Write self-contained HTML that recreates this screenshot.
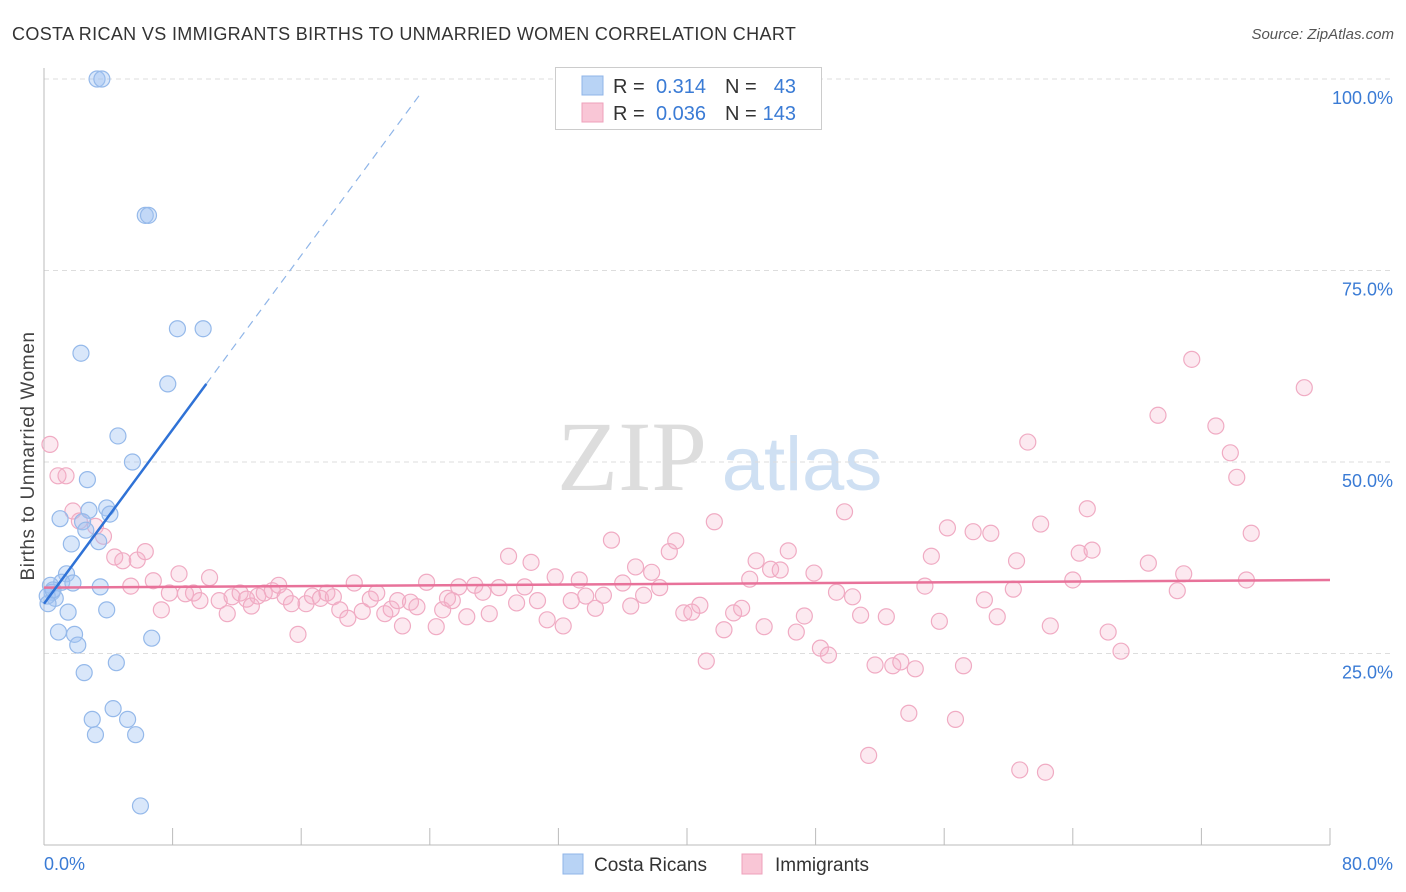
<!DOCTYPE html>
<html><head><meta charset="utf-8"><style>
body{margin:0;background:#fff;font-family:"Liberation Sans",sans-serif;}
#wrap{position:relative;width:1406px;height:892px;overflow:hidden;}
</style></head><body>
<div id="wrap">
<svg id="svg" width="1406" height="892" xmlns="http://www.w3.org/2000/svg"></svg>
</div>
<script>
const blueX=[3.3,3.6,6.3,6.5,8.3,9.9,2.3,7.7,4.6,5.5,2.7,1.0,2.8,3.9,4.1,2.4,2.6,3.4,1.7,1.4,1.1,0.4,0.5,0.7,0.2,0.25,1.8,3.5,1.5,3.9,0.9,1.9,2.1,6.7,4.5,2.5,4.3,3.0,5.2,3.2,5.7,6.0,0.56];
const blueY=[100,100,82.2,82.2,67.4,67.4,64.2,60.2,53.4,50,47.7,42.6,43.7,44,43.2,42.2,41.1,39.6,39.3,35.4,34.3,33.9,33.0,32.2,32.5,31.5,34.2,33.7,30.4,30.7,27.8,27.5,26.1,27.0,23.8,22.5,17.8,16.4,16.4,14.4,14.4,5.1,33.3];
const pinkX=[0.37,0.87,1.37,1.8,2.2,3.2,3.7,4.4,4.9,5.8,6.3,5.4,6.8,7.3,7.8,8.4,8.8,9.3,9.7,10.3,10.9,11.4,11.7,12.2,12.6,12.9,13.3,13.7,14.2,14.6,15.0,15.4,15.8,16.3,16.7,17.2,17.6,18.0,18.4,18.9,19.3,19.8,20.3,20.7,21.2,21.6,22.0,22.3,22.8,23.2,23.8,24.4,24.8,25.1,25.4,25.8,26.3,26.8,27.3,27.7,28.3,28.9,29.4,29.9,30.3,30.7,31.3,31.8,32.3,32.8,33.3,33.7,34.3,34.8,35.3,36.0,36.5,36.8,37.3,37.8,38.3,38.9,39.3,39.8,40.3,40.8,41.2,41.7,42.3,42.9,43.4,43.9,44.3,44.8,45.2,45.8,46.3,46.8,47.3,47.9,48.3,48.8,49.3,49.8,50.3,50.8,51.3,51.7,52.4,52.8,53.3,53.8,54.2,54.8,55.2,55.7,56.2,56.7,57.2,57.8,58.5,58.9,59.3,60.5,60.3,60.7,61.2,62.0,62.3,62.6,64.0,64.4,65.2,64.9,66.2,67.0,68.7,69.3,70.5,70.9,71.4,72.9,73.8,74.2,74.8,75.1,78.4];
const pinkY=[52.3,48.2,48.2,43.6,42.3,41.6,40.3,37.6,37.1,37.2,38.3,33.8,34.5,30.7,32.9,35.4,32.8,32.9,31.9,34.9,31.9,30.2,32.4,32.9,32.1,31.2,32.5,32.9,33.2,33.9,32.4,31.5,27.5,31.5,32.5,32.2,32.9,32.4,30.7,29.6,34.2,30.5,32.1,32.9,30.2,30.8,31.9,28.6,31.7,31.1,34.3,28.5,30.7,32.2,31.9,33.7,29.8,33.9,33.0,30.2,33.6,37.7,31.6,33.7,36.9,31.9,29.4,35.0,28.6,31.9,34.6,32.5,30.9,32.6,39.8,34.2,31.2,36.3,32.6,35.6,33.6,38.3,39.7,30.3,30.4,31.3,24.0,42.2,28.1,30.3,30.9,34.7,37.1,28.5,36.0,35.9,38.4,27.8,29.9,35.5,25.7,24.8,33.0,43.5,32.4,30.0,11.7,23.5,29.8,23.4,23.9,17.2,23.0,33.8,37.7,29.2,41.4,16.4,23.4,40.9,32.0,40.7,29.8,37.1,33.4,9.8,52.6,41.9,9.5,28.6,34.6,38.1,38.5,43.9,27.8,25.3,36.8,56.1,33.2,35.4,63.4,54.7,51.2,48.0,34.6,40.7,59.7];
const yTicks=[25,50,75,100];
const yTickLabels=["25.0%","50.0%","75.0%","100.0%"];
const xTicks=[0,8,16,24,32,40,48,56,64,72,80];
const blueTrend=[[0,31.5],[10.1,60.2]];
const blueDash=[[10.1,60.2],[23.5,98.3]];
const pinkTrend=[[0,33.6],[80,34.6]];

const NS="http://www.w3.org/2000/svg";
const svg=document.getElementById('svg');
const X=v=>44+v*(1286/80);
const Y=v=>845-v*7.66;
function el(t,a,p){const e=document.createElementNS(NS,t);for(const k in a)e.setAttribute(k,a[k]);(p||svg).appendChild(e);return e;}
function tx(x,y,s,a){const e=el('text',Object.assign({x:x,y:y},a));e.textContent=s;return e;}

let t=tx(12,40,"COSTA RICAN VS IMMIGRANTS BIRTHS TO UNMARRIED WOMEN CORRELATION CHART",{'font-size':18,fill:'#333','letter-spacing':'0.35'});


t=tx(1394,39,"Source: ZipAtlas.com",{'font-size':15,fill:'#555','text-anchor':'end','font-style':'italic'});



t=tx(632,490,"ZIP",{'font-size':100,fill:'#ddd','text-anchor':'middle','font-family':'Liberation Serif, serif'});


t=tx(802,490,"atlas",{'font-size':76,fill:'#cfe0f3','text-anchor':'middle'});



yTicks.forEach((v,i)=>{
  const g=el('line',{x1:44,x2:1394,y1:Y(v),y2:Y(v),stroke:'#ddd','stroke-dasharray':'5,4'});
  
  
  const l=tx(1393,Y(v)+25,yTickLabels[i],{'font-size':18,fill:'#3a7bd5','text-anchor':'end'});
  
  
});
let ax=el('line',{x1:44,x2:44,y1:68,y2:845,stroke:'#bbb'});


ax=el('line',{x1:44,x2:1330,y1:845,y2:845,stroke:'#bbb'});


xTicks.forEach(v=>{
  const k=el('line',{x1:X(v),x2:X(v),y1:828,y2:845,stroke:'#bbb'});
  
  
});
t=tx(44,870,"0.0%",{'font-size':18,fill:'#3a7bd5'});


t=tx(1393,870,"80.0%",{'font-size':18,fill:'#3a7bd5','text-anchor':'end'});


t=tx(0,0,"Births to Unmarried Women",{'font-size':19,fill:'#444','text-anchor':'middle','letter-spacing':'0.6',transform:'translate(34,456) rotate(-90)'});



pinkX.forEach((v,i)=>{
  const c=el('circle',{cx:X(v),cy:Y(pinkY[i]),r:8,fill:'rgba(246,175,200,0.28)',stroke:'#f0abc3','stroke-width':1.2});
  
  
});
blueX.forEach((v,i)=>{
  const c=el('circle',{cx:X(v),cy:Y(blueY[i]),r:8,fill:'rgba(160,196,242,0.4)',stroke:'#95b9ea','stroke-width':1.2});
  
  
});
let ln=el('line',{x1:X(pinkTrend[0][0]),y1:Y(pinkTrend[0][1]),x2:X(pinkTrend[1][0]),y2:Y(pinkTrend[1][1]),stroke:'#e8729a','stroke-width':2.5});


ln=el('line',{x1:X(blueTrend[0][0]),y1:Y(blueTrend[0][1]),x2:X(blueTrend[1][0]),y2:Y(blueTrend[1][1]),stroke:'#2f72d6','stroke-width':2.5});


ln=el('line',{x1:X(blueDash[0][0]),y1:Y(blueDash[0][1]),x2:X(blueDash[1][0]),y2:Y(blueDash[1][1]),stroke:'#8fb5e8','stroke-width':1.2,'stroke-dasharray':'8,6'});



const lg=el('g',{});


el('rect',{x:555.5,y:67.5,width:266,height:62,fill:'#fff',stroke:'#ccc'},lg);
el('rect',{x:582,y:76,width:21,height:19,fill:'#b8d3f5',stroke:'#8fb5e8'},lg);
el('rect',{x:582,y:103,width:21,height:19,fill:'#f9c6d6',stroke:'#eea0bb'},lg);
function lt(x,y,s,c,a){const e=tx(x,y,s,Object.assign({'font-size':20,fill:c},a||{}));lg.appendChild(e);return e;}
lt(613,93,"R =","#333");lt(706,93,"0.314","#3a7bd5",{'text-anchor':'end'});
lt(725,93,"N =","#333");lt(796,93,"43","#3a7bd5",{'text-anchor':'end'});
lt(613,120,"R =","#333");lt(706,120,"0.036","#3a7bd5",{'text-anchor':'end'});
lt(725,120,"N =","#333");lt(796,120,"143","#3a7bd5",{'text-anchor':'end'});

const bl=el('g',{});


el('rect',{x:563,y:854,width:20,height:20,fill:'#b8d3f5',stroke:'#8fb5e8'},bl);
el('rect',{x:742,y:854,width:20,height:20,fill:'#f9c6d6',stroke:'#eea0bb'},bl);
let e1=tx(594,871,"Costa Ricans",{'font-size':19,fill:'#333'});bl.appendChild(e1);


let e2=tx(775,871,"Immigrants",{'font-size':19,fill:'#333'});bl.appendChild(e2);


</script>
</body></html>
